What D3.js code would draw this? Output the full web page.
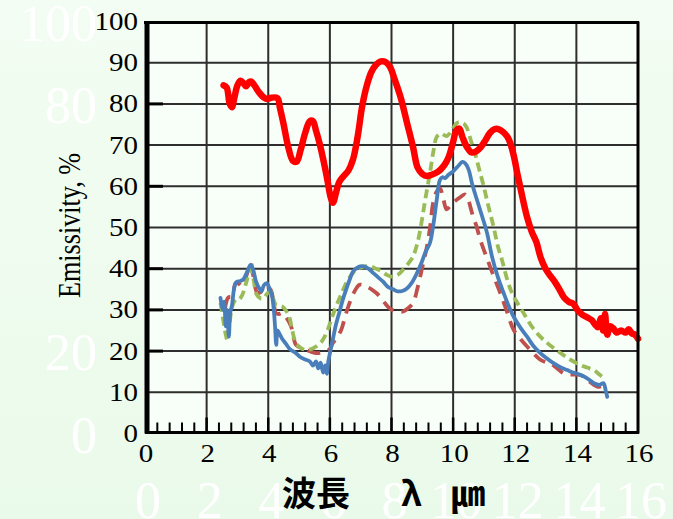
<!DOCTYPE html>
<html><head><meta charset="utf-8">
<script src="https://cdn.jsdelivr.net/npm/d3@7"></script>
<style>body{margin:0;background:#eefbee}svg{display:block}</style>
</head><body>
<svg id="c" width="673" height="519"></svg>
<script>
// ---- data ----
const xTicks = [0, 2, 4, 6, 8, 10, 12, 14, 16];
const yTicks = [0, 10, 20, 30, 40, 50, 60, 70, 80, 90, 100];
const yStubTicks = [20, 30, 40, 60, 80];
const ghostYTicks = [100, 80, 20, 0];
const ghostXTicks = [0, 2, 4, 6, 8, 10, 12, 14, 16];
const yTitle = "Emissivity, %";
const xTitleA = "波長", xTitleB = "λ", xTitleC = "㎛";

const redX = [2.55,2.65,2.75,2.82,2.9,3.0,3.1,3.2,3.28,3.38,3.45,3.55,3.7,3.85,3.95,4.1,4.3,4.38,4.5,4.65,4.8,4.92,5.05,5.2,5.35,5.45,5.55,5.68,5.8,5.92,6.02,6.1,6.2,6.3,6.45,6.6,6.75,6.9,7.05,7.2,7.35,7.5,7.65,7.8,7.95,8.1,8.3,8.5,8.7,8.85,9.0,9.15,9.3,9.5,9.7,9.85,10.0,10.1,10.2,10.3,10.45,10.6,10.75,10.9,11.05,11.2,11.35,11.5,11.65,11.8,11.95,12.1,12.25,12.4,12.55,12.7,12.85,13.0,13.15,13.3,13.45,13.6,13.75,13.9,14.05,14.2,14.35,14.5,14.6,14.7,14.8,14.87,14.93,15.0,15.1,15.2,15.3,15.45,15.6,15.7,15.8,15.9,16.0];
const redY = [84.5,84.0,80.0,79.2,81.5,84.5,85.6,85.0,84.3,85.3,85.4,84.5,82.8,81.6,81.2,81.5,81.4,79.0,75.0,69.5,66.2,66.0,68.8,73.0,75.8,75.8,73.5,70.0,66.0,61.5,57.5,56.0,58.5,61.0,62.5,63.8,66.5,72.0,79.5,84.5,87.8,89.5,90.3,90.2,89.0,86.0,81.5,75.5,69.5,64.5,63.0,62.5,62.8,63.5,65.0,67.0,70.8,73.5,74.0,72.0,69.5,68.2,68.5,69.5,71.2,73.0,73.9,73.8,73.0,71.5,68.0,62.5,57.3,52.5,49.0,46.5,42.5,40.0,38.3,36.8,35.0,33.0,32.0,31.5,29.8,28.8,28.2,27.5,26.5,25.8,28.0,25.0,29.0,24.0,26.0,25.5,24.5,25.0,24.5,25.3,24.3,24.0,23.0];

const blueX = [2.45,2.52,2.57,2.62,2.67,2.72,2.77,2.82,2.9,2.97,3.1,3.2,3.3,3.43,3.52,3.6,3.7,3.78,3.86,3.95,4.05,4.12,4.18,4.22,4.26,4.3,4.35,4.45,4.57,4.7,4.9,5.05,5.22,5.35,5.45,5.55,5.62,5.7,5.78,5.85,5.9,5.95,6.03,6.1,6.2,6.31,6.42,6.53,6.65,6.75,6.9,7.07,7.25,7.4,7.55,7.72,7.9,8.05,8.2,8.35,8.5,8.65,8.8,8.95,9.1,9.25,9.35,9.47,9.57,9.65,9.74,9.85,10.01,10.15,10.3,10.4,10.5,10.62,10.77,10.95,11.1,11.26,11.45,11.64,11.8,11.96,12.2,12.4,12.6,12.83,13.05,13.27,13.5,13.7,13.9,14.14,14.35,14.57,14.75,14.88,14.95,15.0];
const blueY = [32.9,30,32,26,30,23.5,29.5,31,35.5,36.8,37.0,37.5,39,41.0,39.5,37.0,35.3,34.5,36,36.5,35,33.5,30,26,21.5,25,24.4,23.0,21.8,20.5,19.5,18.5,17.9,17.5,16.5,17.5,15.8,17.2,14.8,16.5,14.5,17.5,20.5,23,26.5,29.5,32.5,35,37.5,39.3,40.3,40.6,40,39.0,38,36.9,35.5,35.0,34.5,34.6,35.2,36.5,38.5,41,44,46.3,50.3,56.8,61.5,62.2,62.0,62.8,63.7,64.8,65.9,65.5,64.1,60.5,56.8,52.5,48.7,43,38,34.1,31,28.4,25.5,23.5,21.3,19.5,18.2,17.0,16.0,15.4,14.8,14.2,13.4,12.2,11.8,12.2,10.5,8.9];

const greenX = [2.45,2.55,2.62,2.67,2.75,2.83,2.95,3.05,3.15,3.3,3.43,3.52,3.62,3.75,3.86,3.97,4.08,4.15,4.25,4.35,4.46,4.58,4.68,4.78,4.9,5.05,5.22,5.4,5.55,5.75,5.93,6.05,6.2,6.35,6.53,6.7,6.86,7.05,7.29,7.5,7.67,7.85,8.0,8.2,8.38,8.55,8.7,8.85,8.98,9.1,9.25,9.36,9.47,9.6,9.79,9.95,10.1,10.2,10.35,10.44,10.58,10.71,10.85,10.99,11.15,11.31,11.45,11.59,11.75,11.91,12.1,12.29,12.55,12.83,13.05,13.27,13.55,13.81,14.14,14.35,14.57,14.75,14.9];
const greenY = [31.7,27,24,22.7,27,30.8,32.5,32.5,33.5,37,40,37.5,33.8,32.8,32.9,34,34.5,33,31.2,31,30.8,29.8,28.4,25,21.9,20.8,20.3,20.5,21.1,22.5,25.2,27.8,30.8,33.5,36.5,38.5,39.8,40.4,40.6,40.0,39.4,38.5,38.1,38.5,39.8,41.3,43.0,46.5,51.5,57,63.3,68.5,72.0,72.8,72.2,73.5,75.2,75.6,75.2,74.3,71,68.0,64,60.1,55,50.3,45.5,42.0,37.5,34.1,31.5,29.2,26,23.5,22,20.7,19.2,17.9,16.6,16.0,15.4,14.3,13.4];

const dredX = [2.6,2.7,2.83,2.94,3.05,3.16,3.3,3.43,3.52,3.65,3.78,3.92,4.08,4.17,4.25,4.35,4.46,4.6,4.74,4.9,5.05,5.22,5.4,5.55,5.72,5.87,6.0,6.09,6.2,6.37,6.5,6.64,6.8,6.96,7.1,7.18,7.35,7.51,7.65,7.78,7.95,8.16,8.38,8.55,8.7,8.85,9.03,9.14,9.25,9.35,9.45,9.57,9.68,9.79,9.93,10.06,10.2,10.39,10.5,10.61,10.75,10.88,11.0,11.15,11.35,11.53,11.75,11.96,12.2,12.4,12.6,12.83,13.0,13.16,13.38,13.59,13.85,14.14,14.35,14.57,14.7,14.8];
const dredY = [30.5,33.0,33.3,36.5,36.3,35.7,38.5,41.4,38,34.1,34.5,35.7,34.9,32,29.2,29.0,29.2,28,26.0,21.5,20.8,20.3,19.8,19.5,19.6,19.9,20.5,21.9,23,25.2,28.5,31.7,34.5,36.1,36.0,35.7,35,34.1,33,31.7,30.3,29.6,29.6,30.5,31.7,35.5,41.4,45,50,56.0,58.5,59.5,57,54.4,55.5,56.4,57.2,58.0,56.5,53.6,50.5,47.1,44.5,41.5,37.5,34.1,29.5,25.2,22.8,21.1,19.5,17.9,17.3,17.0,15.8,14.6,14.3,14.2,13.0,11.8,11.3,11.5];

// ---- drawing ----
const W = 673, H = 519;
const svg = d3.select("#c");
const x = d3.scaleLinear().domain([0, 16]).range([145, 638]);
const y = d3.scaleLinear().domain([0, 100]).range([433.5, 21.5]);

const defs = svg.append("defs");
const grad = defs.append("linearGradient").attr("id", "bg").attr("x1", 0).attr("y1", 0).attr("x2", 0).attr("y2", 1);
grad.append("stop").attr("offset", "0%").attr("stop-color", "#f3fdf3");
grad.append("stop").attr("offset", "100%").attr("stop-color", "#eafaea");
svg.append("rect").attr("width", W).attr("height", H).attr("fill", "url(#bg)");

const serif = "'Liberation Serif','Times New Roman',serif";
const cjk = "'Noto Sans CJK JP','Noto Sans CJK SC',sans-serif";

// ghost labels (white, large)
svg.append("g").selectAll("text").data(ghostYTicks).join("text")
  .attr("x", 97).attr("y", d => y(d) + 19)
  .attr("text-anchor", "end").attr("font-family", serif).attr("font-size", 52)
  .attr("fill", "#ffffff").text(d => d);
svg.append("g").selectAll("text").data(ghostXTicks).join("text")
  .attr("x", d => x(d) + 3).attr("y", 518)
  .attr("text-anchor", "middle").attr("font-family", serif).attr("font-size", 52)
  .attr("fill", "#ffffff").text(d => d);

// plot background
svg.append("rect").attr("x", x(0)).attr("y", y(100)).attr("width", x(16) - x(0)).attr("height", y(0) - y(100))
  .attr("fill", "#f8fff8");

// grid
const grid = svg.append("g").attr("stroke", "#2e2e2e").attr("stroke-width", 2);
grid.selectAll("line.v").data(xTicks.slice(1, -1)).join("line").attr("class", "v")
  .attr("x1", d => x(d)).attr("x2", d => x(d)).attr("y1", y(100)).attr("y2", y(0));
grid.selectAll("line.h").data(yTicks.slice(1, -1)).join("line").attr("class", "h")
  .attr("x1", x(0)).attr("x2", x(16)).attr("y1", d => y(d)).attr("y2", d => y(d));

// minor ticks on bottom axis
const minor = d3.range(1, 40).map(i => i * 0.4).filter(v => Math.abs(v / 2 - Math.round(v / 2)) > 1e-6);
svg.append("g").attr("stroke", "#000").attr("stroke-width", 2)
  .selectAll("line").data(minor).join("line")
  .attr("x1", d => x(d)).attr("x2", d => x(d)).attr("y1", y(0) - 11).attr("y2", y(0));
svg.append("g").attr("stroke", "#000").attr("stroke-width", 2.5)
  .selectAll("line").data(xTicks.slice(1, -1)).join("line")
  .attr("x1", d => x(d)).attr("x2", d => x(d)).attr("y1", y(0) - 16).attr("y2", y(0));
svg.append("g").attr("stroke", "#000").attr("stroke-width", 3)
  .selectAll("line").data(yStubTicks).join("line")
  .attr("x1", x(0)).attr("x2", x(0) + 18).attr("y1", d => y(d)).attr("y2", d => y(d));

// series
const line = d3.line().x(d => x(d[0])).y(d => y(d[1])).curve(d3.curveCatmullRom.alpha(0.5));
const zip = (a, b) => a.map((v, i) => [v, b[i]]);
const g = svg.append("g").attr("fill", "none").attr("stroke-linejoin", "round");
g.append("path").attr("d", line(zip(dredX, dredY))).attr("stroke", "#c0504d").attr("stroke-width", 3.8)
  .attr("stroke-dasharray", "13,8");
g.append("path").attr("d", line(zip(greenX, greenY))).attr("stroke", "#9bbb59").attr("stroke-width", 3.8)
  .attr("stroke-dasharray", "9,5");
g.append("path").attr("d", line(zip(blueX, blueY))).attr("stroke", "#4a7ebb").attr("stroke-width", 3.8)
  .attr("stroke-linecap", "round");
g.append("path").attr("d", line(zip(redX, redY))).attr("stroke", "#ff0000").attr("stroke-width", 6.5)
  .attr("stroke-linecap", "round");

// frame
const fr = svg.append("g").attr("stroke", "#000");
fr.append("line").attr("x1", x(0) - 1).attr("x2", x(16) + 1).attr("y1", y(100) + 1).attr("y2", y(100) + 1).attr("stroke-width", 3);
fr.append("line").attr("x1", x(16)).attr("x2", x(16)).attr("y1", y(100)).attr("y2", y(0)).attr("stroke-width", 3);
fr.append("line").attr("x1", x(0)).attr("x2", x(16) + 1).attr("y1", y(0) - 1).attr("y2", y(0) - 1).attr("stroke-width", 3);
fr.append("line").attr("x1", x(0) + 2).attr("x2", x(0) + 2).attr("y1", y(100)).attr("y2", y(0)).attr("stroke-width", 5);

// tick labels
svg.append("g").selectAll("text").data(yTicks).join("text")
  .attr("transform", d => `translate(138,${y(d) + 8.5}) scale(1.16,1)`)
  .attr("text-anchor", "end").attr("font-family", serif).attr("font-size", 25).attr("fill", "#000")
  .text(d => d);
svg.append("g").selectAll("text").data(xTicks).join("text")
  .attr("transform", d => `translate(${x(d) + 1},462) scale(1.16,1)`)
  .attr("text-anchor", "middle").attr("font-family", serif).attr("font-size", 25).attr("fill", "#000")
  .text(d => d);

// axis titles
svg.append("text").attr("transform", "translate(80,298) rotate(-90) scale(1,1.22)")
  .attr("font-family", serif).attr("font-size", 26).attr("fill", "#000")
  .attr("textLength", 145).attr("lengthAdjust", "spacingAndGlyphs").text(yTitle);
svg.append("text").attr("x", 282).attr("y", 506).attr("font-family", cjk).attr("font-size", 34)
  .attr("font-weight", "bold").attr("fill", "#000").text(xTitleA);
svg.append("text").attr("x", 401).attr("y", 506).attr("font-family", cjk).attr("font-size", 34)
  .attr("font-weight", "bold").attr("fill", "#000").text(xTitleB);
svg.append("text").attr("x", 451).attr("y", 506).attr("font-family", cjk).attr("font-size", 34)
  .attr("font-weight", "bold").attr("fill", "#000").text(xTitleC);
</script>
</body></html>
